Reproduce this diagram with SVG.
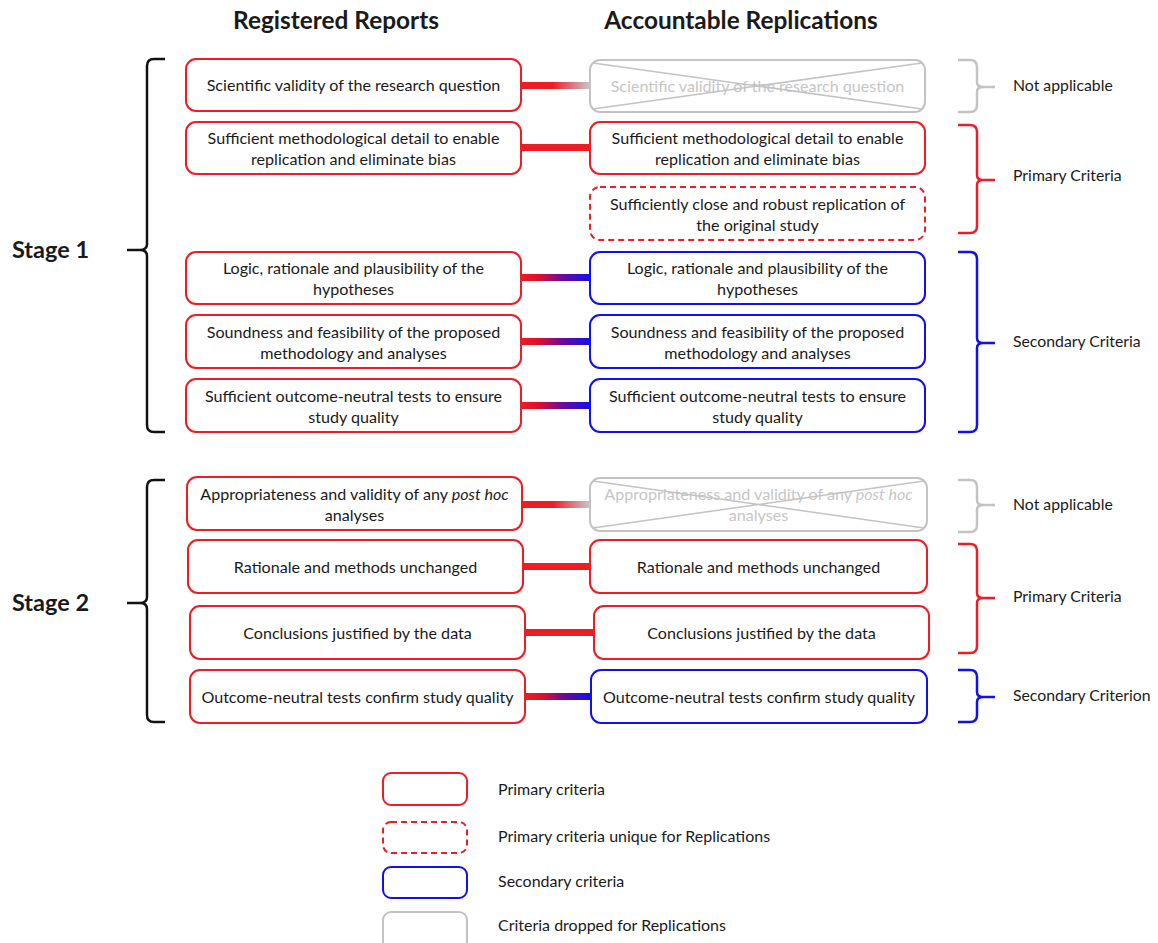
<svg xmlns="http://www.w3.org/2000/svg" width="1158" height="943" viewBox="0 0 1158 943">
<style>
text{font-family:Lato,"Open Sans","Liberation Sans",sans-serif;fill:#1a1a1a}
.h{font-size:24.4px;font-weight:bold;text-anchor:middle}
.st{font-size:23.5px;font-weight:bold}
.t{font-size:16.1px;text-anchor:middle}
.tg{font-size:16.1px;text-anchor:middle;fill:#c6c6c6}
.lab{font-size:15.8px}
.leg{font-size:16px}
.red{fill:#fff;stroke:#ee1c25;stroke-width:2}
.dash{fill:#fff;stroke:#ee1c25;stroke-width:2;stroke-dasharray:6 4}
.blue{fill:#fff;stroke:#1010f0;stroke-width:2}
.gray{fill:#fff;stroke:#c3c3c3;stroke-width:2}
.xl{stroke:#c3c3c3;stroke-width:1.5;fill:none}
.br{fill:none;stroke-width:2.5;stroke-linejoin:round}
.bk{stroke:#111}
.bg{stroke:#c3c3c3}
.brd{stroke:#ee1c25}
.bb{stroke:#1010f0}
</style>
<defs>
<linearGradient id="gRG" x1="0" x2="1" y1="0" y2="0"><stop offset="0" stop-color="#ee1c25"/><stop offset="0.45" stop-color="#ee1c25"/><stop offset="1" stop-color="#c8c8c8"/></linearGradient>
<linearGradient id="gRB" x1="0" x2="1" y1="0" y2="0"><stop offset="0" stop-color="#ee1c25"/><stop offset="0.25" stop-color="#e0102a"/><stop offset="0.6" stop-color="#6a0a9a"/><stop offset="1" stop-color="#1010f0"/></linearGradient>
</defs>

<text class="h" x="336" y="29">Registered Reports</text>
<text class="h" x="741" y="29">Accountable Replications</text>

<g id="connectors">
<rect x="521" y="82" width="69" height="7" fill="url(#gRG)"/>
<rect x="521" y="144" width="69" height="7" fill="#ee1c25"/>
<rect x="521" y="274" width="69" height="7" fill="url(#gRB)"/>
<rect x="521" y="338" width="69" height="7" fill="url(#gRB)"/>
<rect x="521" y="402" width="69" height="7" fill="url(#gRB)"/>
<rect x="522" y="501" width="68" height="7" fill="url(#gRG)"/>
<rect x="523" y="563" width="67" height="7" fill="#ee1c25"/>
<rect x="525" y="629" width="69" height="7" fill="#ee1c25"/>
<rect x="525" y="693" width="66" height="7" fill="url(#gRB)"/>
</g>

<g id="stage1-bracket">
<path class="br bk" d="M165,59 H154 Q147,59 147,66 V244 Q147,250 140,250 H127 M140,250 Q147,250 147,256 V425 Q147,432 154,432 H165"/>
<text class="st" x="12" y="258">Stage 1</text>
</g>
<g id="stage2-bracket">
<path class="br bk" d="M165,480 H154 Q147,480 147,487 V597 Q147,603 140,603 H127 M140,603 Q147,603 147,609 V715 Q147,722 154,722 H165"/>
<text class="st" x="12" y="611">Stage 2</text>
</g>

<g id="rr1"><rect class="red" x="186" y="59" width="335" height="52" rx="10"/><text class="t" x="353.5" y="91">Scientific validity of the research question</text></g>
<g id="rr2"><rect class="red" x="186" y="122" width="335" height="52" rx="10"/><text class="t" x="353.5" y="144">Sufficient methodological detail to enable</text><text class="t" x="353.5" y="165">replication and eliminate bias</text></g>
<g id="rr3"><rect class="red" x="186" y="252" width="335" height="52" rx="10"/><text class="t" x="353.5" y="274">Logic, rationale and plausibility of the</text><text class="t" x="353.5" y="295">hypotheses</text></g>
<g id="rr4"><rect class="red" x="186" y="315" width="335" height="53" rx="10"/><text class="t" x="353.5" y="338">Soundness and feasibility of the proposed</text><text class="t" x="353.5" y="359">methodology and analyses</text></g>
<g id="rr5"><rect class="red" x="186" y="379" width="335" height="53" rx="10"/><text class="t" x="353.5" y="402">Sufficient outcome-neutral tests to ensure</text><text class="t" x="353.5" y="423">study quality</text></g>

<g id="ar1"><rect class="gray" x="590" y="60" width="335" height="52" rx="10"/><text class="tg" x="757.5" y="92">Scientific validity of the research question</text><path class="xl" d="M593,63 L922,109 M593,109 L922,63"/></g>
<g id="ar2"><rect class="red" x="590" y="122" width="335" height="52" rx="10"/><text class="t" x="757.5" y="144">Sufficient methodological detail to enable</text><text class="t" x="757.5" y="165">replication and eliminate bias</text></g>
<g id="ar3"><rect class="dash" x="590" y="187" width="335" height="53" rx="10"/><text class="t" x="757.5" y="210">Sufficiently close and robust replication of</text><text class="t" x="757.5" y="231">the original study</text></g>
<g id="ar4"><rect class="blue" x="590" y="252" width="335" height="52" rx="10"/><text class="t" x="757.5" y="274">Logic, rationale and plausibility of the</text><text class="t" x="757.5" y="295">hypotheses</text></g>
<g id="ar5"><rect class="blue" x="590" y="315" width="335" height="53" rx="10"/><text class="t" x="757.5" y="338">Soundness and feasibility of the proposed</text><text class="t" x="757.5" y="359">methodology and analyses</text></g>
<g id="ar6"><rect class="blue" x="590" y="379" width="335" height="53" rx="10"/><text class="t" x="757.5" y="402">Sufficient outcome-neutral tests to ensure</text><text class="t" x="757.5" y="423">study quality</text></g>

<g id="rr6"><rect class="red" x="187" y="477" width="335" height="53" rx="10"/><text class="t" x="354.5" y="500">Appropriateness and validity of any <tspan font-style="italic">post hoc</tspan></text><text class="t" x="354.5" y="521">analyses</text></g>
<g id="rr7"><rect class="red" x="188" y="540" width="335" height="53" rx="10"/><text class="t" x="355.5" y="573">Rationale and methods unchanged</text></g>
<g id="rr8"><rect class="red" x="190" y="606" width="335" height="53" rx="10"/><text class="t" x="357.5" y="639">Conclusions justified by the data</text></g>
<g id="rr9"><rect class="red" x="190" y="670" width="335" height="53" rx="10"/><text class="t" x="357.5" y="703">Outcome-neutral tests confirm study quality</text></g>

<g id="ar7"><rect class="gray" x="590" y="478" width="337" height="53" rx="10"/><text class="tg" x="758.5" y="500">Appropriateness and validity of any <tspan font-style="italic">post hoc</tspan></text><text class="tg" x="758.5" y="521">analyses</text><path class="xl" d="M593,481 L924,528 M593,528 L924,481"/></g>
<g id="ar8"><rect class="red" x="590" y="540" width="337" height="53" rx="10"/><text class="t" x="758.5" y="573">Rationale and methods unchanged</text></g>
<g id="ar9"><rect class="red" x="594" y="606" width="335" height="53" rx="10"/><text class="t" x="761.5" y="639">Conclusions justified by the data</text></g>
<g id="ar10"><rect class="blue" x="591" y="670" width="336" height="53" rx="10"/><text class="t" x="759" y="703">Outcome-neutral tests confirm study quality</text></g>

<g id="right-brackets">
<path class="br bg" d="M958,60 H970 Q977,60 977,67 V82 Q977,87 983,87 H995 M983,87 Q977,87 977,92 V105 Q977,112 970,112 H958"/>
<text class="lab" x="1013" y="91">Not applicable</text>
<path class="br brd" d="M958,125 H970 Q977,125 977,132 V175 Q977,180 983,180 H995 M983,180 Q977,180 977,185 V226 Q977,233 970,233 H958"/>
<text class="lab" x="1013" y="181">Primary Criteria</text>
<path class="br bb" d="M958,252 H970 Q977,252 977,259 V338 Q977,343 983,343 H995 M983,343 Q977,343 977,348 V425 Q977,432 970,432 H958"/>
<text class="lab" x="1013" y="347">Secondary Criteria</text>
<path class="br bg" d="M958,480 H970 Q977,480 977,487 V500 Q977,505 983,505 H995 M983,505 Q977,505 977,510 V525 Q977,532 970,532 H958"/>
<text class="lab" x="1013" y="510">Not applicable</text>
<path class="br brd" d="M958,544 H970 Q977,544 977,551 V593 Q977,598 983,598 H995 M983,598 Q977,598 977,603 V646 Q977,653 970,653 H958"/>
<text class="lab" x="1013" y="602">Primary Criteria</text>
<path class="br bb" d="M958,670 H970 Q977,670 977,677 V692 Q977,697 983,697 H995 M983,697 Q977,697 977,702 V715 Q977,722 970,722 H958"/>
<text class="lab" x="1013" y="701">Secondary Criterion</text>
</g>

<g id="legend">
<rect class="red" x="383" y="773" width="84" height="32" rx="8"/>
<text class="leg" x="498" y="795">Primary criteria</text>
<rect class="dash" x="383" y="822" width="84" height="31" rx="8"/>
<text class="leg" x="498" y="842">Primary criteria unique for Replications</text>
<rect class="blue" x="383" y="867" width="84" height="31" rx="8"/>
<text class="leg" x="498" y="887">Secondary criteria</text>
<rect class="gray" x="383" y="912" width="84" height="40" rx="8"/>
<text class="leg" x="498" y="931">Criteria dropped for Replications</text>
</g>
</svg>
